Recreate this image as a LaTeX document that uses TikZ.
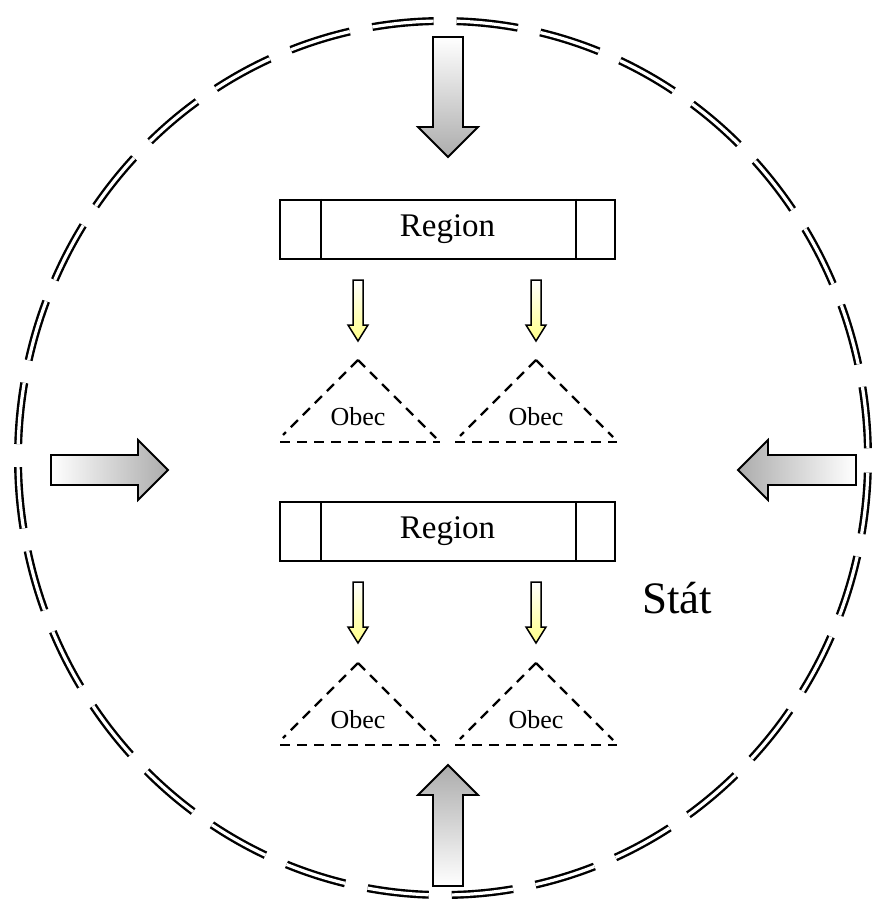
\documentclass[tikz,border=0pt]{standalone}
\usepackage{fontspec}
\setmainfont{Liberation Serif}
\usepackage{tikz}
\usepackage{xcolor}

\begin{document}
\begin{tikzpicture}[x=1pt,y=-1pt]
% Define components
\definecolor{arrowgray}{RGB}{172,172,172}
\definecolor{paleyellow}{RGB}{255,255,135}
\tikzset{
  regionbox/.style={draw,line width=2pt,minimum width=335pt,minimum height=59pt,inner sep=0pt,font=\fontsize{33}{36}\selectfont},
  obecdash/.style={line width=2.2pt,dash pattern=on 10pt off 7pt},
  bigarrow/.style={line width=1.8pt,line join=miter},
  smallarrow/.style={line width=1.5pt,line join=miter}
}
\useasboundingbox (0,0) rectangle (877,909);

% Draw state border
\draw[line width=2.4pt,double distance=3.2pt,dash pattern=on 61.6pt off 23pt,dash phase=70pt]
  (443,458) ellipse [x radius=425, y radius=437];
\node[font=\fontsize{45}{50}\selectfont] (stat) at (677,598) {Stát};

% Draw regions
\node[regionbox] (region1) at (447.5,229.5) {Region};
\node[regionbox] (region2) at (447.5,531.5) {Region};
\draw[line width=2pt] ([xshift=42pt]region1.north west) -- ([xshift=42pt]region1.south west);
\draw[line width=2pt] ([xshift=-40pt]region1.north east) -- ([xshift=-40pt]region1.south east);
\draw[line width=2pt] ([xshift=42pt]region2.north west) -- ([xshift=42pt]region2.south west);
\draw[line width=2pt] ([xshift=-40pt]region2.north east) -- ([xshift=-40pt]region2.south east);

% Draw municipalities
\draw[obecdash] (358,360) -- (436,438);
\draw[obecdash] (358,360) -- (283,435);
\draw[obecdash] (280,442) -- (440,442);
\draw[obecdash] (536,360) -- (613,437);
\draw[obecdash] (536,360) -- (460,436);
\draw[obecdash] (455,442) -- (617,442);
\node[font=\fontsize{26}{28}\selectfont] (obec1) at (358,417) {Obec};
\node[font=\fontsize{26}{28}\selectfont] (obec2) at (536,417) {Obec};

\draw[obecdash] (358,663) -- (436,741);
\draw[obecdash] (358,663) -- (283,738);
\draw[obecdash] (280,745) -- (440,745);
\draw[obecdash] (536,663) -- (613,740);
\draw[obecdash] (536,663) -- (460,739);
\draw[obecdash] (455,745) -- (617,745);
\node[font=\fontsize{26}{28}\selectfont] (obec3) at (358,720) {Obec};
\node[font=\fontsize{26}{28}\selectfont] (obec4) at (536,720) {Obec};

% Draw region-to-municipality arrows
\shadedraw[smallarrow,top color=white,bottom color=paleyellow]
  (353,280) -- (363,280) -- (363,325) -- (368,325) -- (358,341) -- (348,325) -- (353,325) -- cycle;
\shadedraw[smallarrow,top color=white,bottom color=paleyellow]
  (531,280) -- (541,280) -- (541,325) -- (546,325) -- (536,341) -- (526,325) -- (531,325) -- cycle;
\shadedraw[smallarrow,top color=white,bottom color=paleyellow]
  (353,582) -- (363,582) -- (363,627) -- (368,627) -- (358,643) -- (348,627) -- (353,627) -- cycle;
\shadedraw[smallarrow,top color=white,bottom color=paleyellow]
  (531,582) -- (541,582) -- (541,627) -- (546,627) -- (536,643) -- (526,627) -- (531,627) -- cycle;

% Draw outer pressure arrows
\shadedraw[bigarrow,top color=white,bottom color=arrowgray]
  (433,37) -- (463,37) -- (463,127) -- (478,127) -- (448,157) -- (418,127) -- (433,127) -- cycle;
\shadedraw[bigarrow,top color=arrowgray,bottom color=white]
  (433,886) -- (463,886) -- (463,795) -- (478,795) -- (448,765) -- (418,795) -- (433,795) -- cycle;
\shadedraw[bigarrow,left color=white,right color=arrowgray]
  (51,455) -- (138,455) -- (138,440) -- (168,470) -- (138,500) -- (138,485) -- (51,485) -- cycle;
\shadedraw[bigarrow,left color=arrowgray,right color=white]
  (856,455) -- (768,455) -- (768,440) -- (738,470) -- (768,500) -- (768,485) -- (856,485) -- cycle;
\end{tikzpicture}
\end{document}
